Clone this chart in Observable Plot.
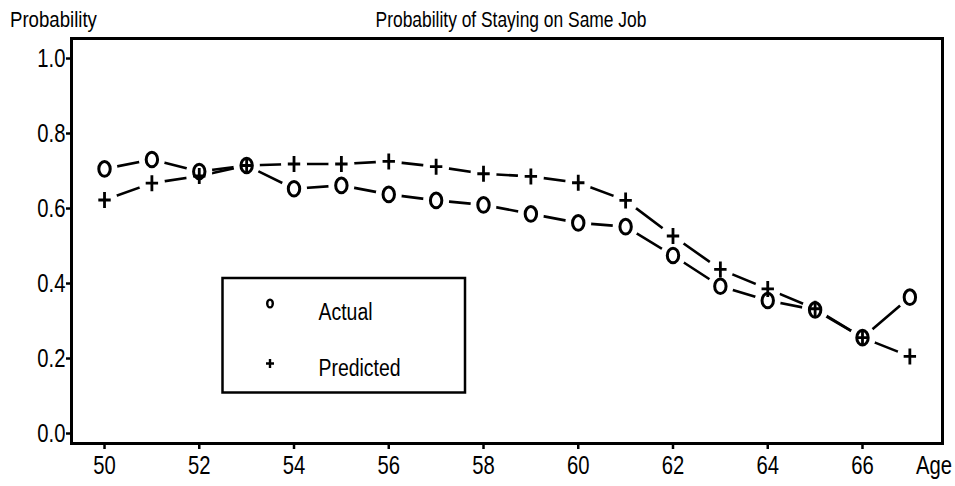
<!DOCTYPE html>
<html>
<head>
<meta charset="utf-8">
<script src="https://cdn.jsdelivr.net/npm/d3@7"></script>
<script src="https://cdn.jsdelivr.net/npm/@observablehq/plot@0.6"></script>
<style>
  html, body { margin: 0; padding: 0; background: #fff; }
  #chart svg { display: block; }
</style>
</head>
<body>
<div id="chart"></div>
<script>
const ages = [50, 51, 52, 53, 54, 55, 56, 57, 58, 59, 60, 61, 62, 63, 64, 65, 66, 67];
const actual = [0.695, 0.72, 0.688, 0.704, 0.642, 0.651, 0.627, 0.611, 0.599, 0.575, 0.551, 0.541, 0.464, 0.382, 0.344, 0.319, 0.245, 0.353];
const predicted = [0.612, 0.657, 0.676, 0.704, 0.708, 0.708, 0.715, 0.701, 0.682, 0.675, 0.658, 0.611, 0.516, 0.427, 0.375, 0.322, 0.245, 0.195];
const seriesNames = ["Actual", "Predicted"];
const yTicks = [0, 0.2, 0.4, 0.6, 0.8, 1.0];
const xTicks = [50, 52, 54, 56, 58, 60, 62, 64, 66];
const titleText = "Probability of Staying on Same Job";
const yLabelText = "Probability";
const xLabelText = "Age";

const data = [];
ages.forEach((a, i) => {
  data.push({age: a, value: actual[i], series: seriesNames[0]});
  data.push({age: a, value: predicted[i], series: seriesNames[1]});
});

const FONT = "'Liberation Sans', Arial, Helvetica, sans-serif";
const SQUEEZE = 0.81;

function ellipseSymbol(rx, ry) {
  const k = 0.5523;
  return {draw(ctx) {
    ctx.moveTo(rx, 0);
    ctx.bezierCurveTo(rx, ry * k, rx * k, ry, 0, ry);
    ctx.bezierCurveTo(-rx * k, ry, -rx, ry * k, -rx, 0);
    ctx.bezierCurveTo(-rx, -ry * k, -rx * k, -ry, 0, -ry);
    ctx.bezierCurveTo(rx * k, -ry, rx, -ry * k, rx, 0);
    ctx.closePath();
  }};
}
function plusSymbol(ax, ay) {
  return {draw(ctx) {
    ctx.moveTo(-ax, 0); ctx.lineTo(ax, 0);
    ctx.moveTo(0, -ay); ctx.lineTo(0, ay);
  }};
}

const W = 955, H = 486;
const plot = Plot.plot({
  width: W,
  height: H,
  marginLeft: 71,
  marginRight: 13,
  marginTop: 38,
  marginBottom: 43,
  style: {fontFamily: FONT, background: "#fff", color: "#000"},
  x: {domain: [49.303, 67.689]},
  y: {domain: [-0.0373, 1.0427]},
  marks: [
    Plot.line(data, {x: "age", y: "value", z: "series", stroke: "#000", strokeWidth: 2.6}),
    Plot.dot(data, {x: "age", y: "value", r: 13, fill: "#fff", stroke: null}),
    Plot.dot(data.filter(d => d.series === "Actual"), {x: "age", y: "value", symbol: ellipseSymbol(5.7, 7.3), stroke: "#000", strokeWidth: 3, fill: "none"}),
    Plot.dot(data.filter(d => d.series === "Predicted"), {x: "age", y: "value", symbol: plusSymbol(6.2, 8), stroke: "#000", strokeWidth: 2.8, fill: "none"}),
    Plot.frame({stroke: "#000", strokeWidth: 3}),
    Plot.axisY({ticks: yTicks, tickFormat: d3.format(".1f"), tickSize: 5, tickPadding: 1, strokeWidth: 2.5, fontSize: 25, dy: 4, label: null}),
    Plot.axisX({ticks: xTicks, tickFormat: d => String(d), tickSize: 6, tickPadding: 7, strokeWidth: 2.5, fontSize: 25, label: null})
  ]
});
document.getElementById("chart").appendChild(plot);

const svg = d3.select(plot);
function addText(parent, x, y, txt, size, anchor) {
  return parent.append("text").attr("transform", `translate(${x},${y})`)
    .attr("text-anchor", anchor || "start")
    .style("font-family", FONT).style("font-size", size + "px").attr("fill", "#000").text(txt);
}
addText(svg, 511, 27, titleText, 21.5, "middle");
addText(svg, 10, 27, yLabelText, 23);
addText(svg, 916, 474, xLabelText, 25);

// legend
const lg = svg.append("g");
lg.append("rect").attr("x", 222.5).attr("y", 278).attr("width", 242.5).attr("height", 114.5)
  .attr("fill", "#fff").attr("stroke", "#000").attr("stroke-width", 2.5);
lg.append("ellipse").attr("cx", 270).attr("cy", 303.5).attr("rx", 2.8).attr("ry", 3.9)
  .attr("fill", "none").attr("stroke", "#000").attr("stroke-width", 2.4);
lg.append("path").attr("d", "M266,363.5H274M270,359V368")
  .attr("fill", "none").attr("stroke", "#000").attr("stroke-width", 2.4);
addText(lg, 318.5, 319.5, seriesNames[0], 24);
addText(lg, 318.5, 376, seriesNames[1], 24);

// narrow the Helvetica-like glyphs horizontally (the reference uses a narrow face)
svg.selectAll("text").each(function() {
  const x = +(this.getAttribute("x") || 0);
  const t = this.getAttribute("transform") || "";
  this.setAttribute("transform", `${t} translate(${x},0) scale(${SQUEEZE},1) translate(${-x},0)`);
});
</script>
</body>
</html>
